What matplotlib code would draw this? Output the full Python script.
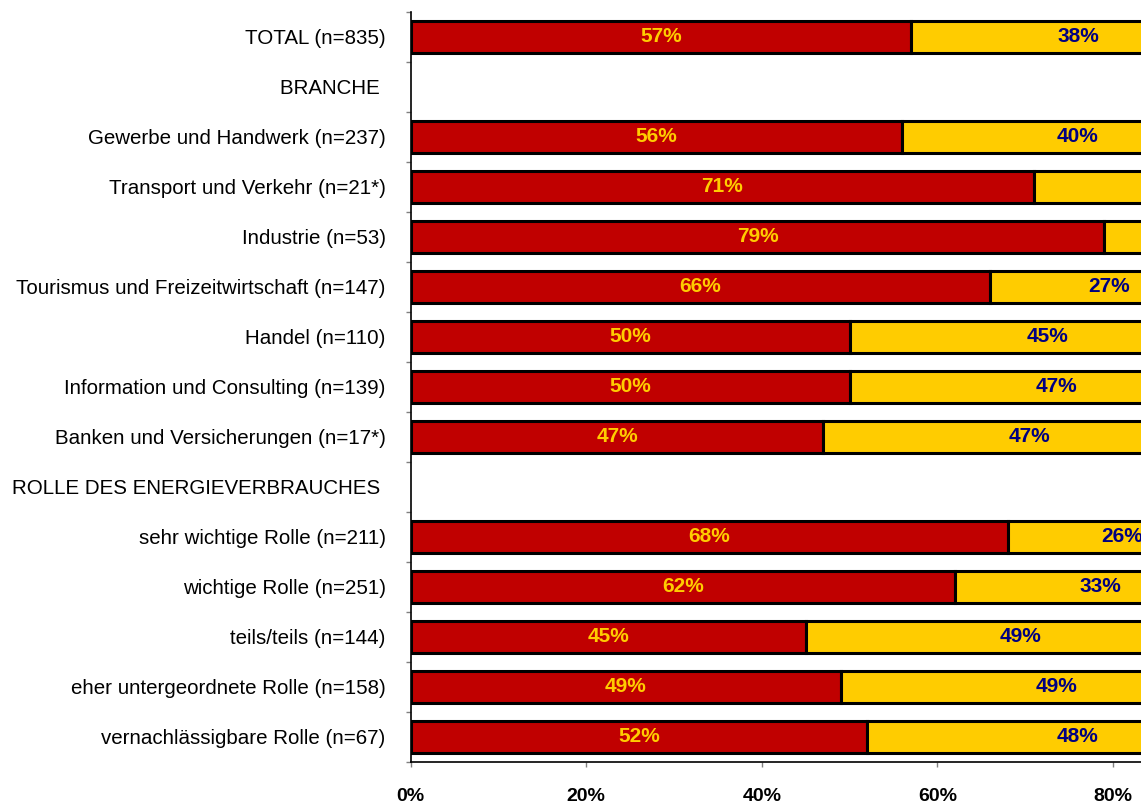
import matplotlib
matplotlib.use("Agg")
import matplotlib.pyplot as plt
import numpy as np

plt.rcParams['font.family'] = ['Liberation Sans', 'DejaVu Sans']

categories = [
    "TOTAL (n=835)",
    "BRANCHE",
    "Gewerbe und Handwerk (n=237)",
    "Transport und Verkehr (n=21*)",
    "Industrie (n=53)",
    "Tourismus und Freizeitwirtschaft (n=147)",
    "Handel (n=110)",
    "Information und Consulting (n=139)",
    "Banken und Versicherungen (n=17*)",
    "ROLLE DES ENERGIEVERBRAUCHES",
    "sehr wichtige Rolle (n=211)",
    "wichtige Rolle (n=251)",
    "teils/teils (n=144)",
    "eher untergeordnete Rolle (n=158)",
    "vernachlässigbare Rolle (n=67)",
]
headers = {"BRANCHE", "ROLLE DES ENERGIEVERBRAUCHES"}

# Share of answers per group (percent); None marks header rows
ja = [57, None, 56, 71, 79, 66, 50, 50, 47, None, 68, 62, 45, 49, 52]
nein = [38, None, 40, 29, 21, 27, 45, 47, 47, None, 26, 33, 49, 49, 48]

x_ticks = [0, 20, 40, 60, 80, 100]
x_tick_labels = ["0%", "20%", "40%", "60%", "80%", "100%"]

RED = "#C00000"
YELLOW = "#FFCC00"
LABEL_ON_RED = "#FFCC00"
LABEL_ON_YELLOW = "#000080"

W, H = 1141, 805
fig = plt.figure(figsize=(W / 100, H / 100), dpi=100)
ax = fig.add_axes([410.7 / W, 1 - 761.7 / H, 878 / W, 750 / H])

y = np.arange(len(categories))
height = 0.64
for i, (a, b) in enumerate(zip(ja, nein)):
    if a is None:
        continue
    ax.barh(i, a, height=height, left=0, color=RED, edgecolor="black", linewidth=2.2)
    ax.barh(i, b, height=height, left=a, color=YELLOW, edgecolor="black", linewidth=2.2)
    ax.text(a / 2, i, f"{a}%", ha="center", va="center", color=LABEL_ON_RED,
            fontsize=15, fontweight="bold")
    ax.text(a + b / 2, i, f"{b}%", ha="center", va="center", color=LABEL_ON_YELLOW,
            fontsize=15, fontweight="bold")

ax.set_xlim(0, 100)
ax.set_ylim(len(categories) - 0.5, -0.5)

ax.set_yticks(y)
ax.set_yticklabels([c + " " if c in headers else c for c in categories], fontsize=14.8)
ax.set_yticks(np.arange(-0.5, len(categories), 1), minor=True)
ax.tick_params(axis="y", which="major", length=0, pad=18)
ax.tick_params(axis="y", which="minor", length=3.6, color="#808080", width=1)

ax.set_xticks(x_ticks)
ax.set_xticklabels(x_tick_labels, fontsize=14, fontweight="bold")
ax.tick_params(axis="x", length=3.6, color="#808080", width=1, pad=15)

for side in ("top", "right"):
    ax.spines[side].set_visible(False)
for side in ("left", "bottom"):
    ax.spines[side].set_color("black")
    ax.spines[side].set_linewidth(1.2)

fig.savefig("out.png", dpi=100)
